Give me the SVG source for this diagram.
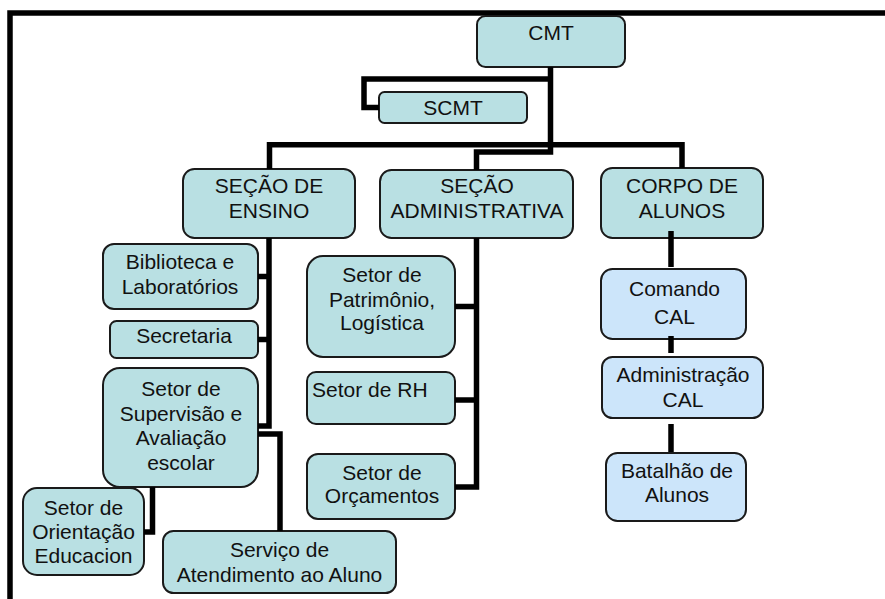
<svg xmlns="http://www.w3.org/2000/svg" width="885" height="599" viewBox="0 0 885 599">
<style>
.t{fill:#b9e0e3;stroke:#1a1a1a;stroke-width:2}
.b{fill:#cce5fa;stroke:#1a1a1a;stroke-width:2}
text{font-family:"Liberation Sans",Arial,sans-serif;font-size:21px;fill:#111;text-anchor:middle}
.c{fill:none;stroke:#000;stroke-width:5.5;stroke-linejoin:miter}
</style>
<rect x="0" y="0" width="885" height="599" fill="#fff"/>
<rect x="10" y="13" width="900" height="620" fill="none" stroke="#000" stroke-width="5.5"/>
<g id="cmt"><rect class="t" x="477" y="16" width="148" height="51" rx="8.5"/><text x="551" y="40">CMT</text></g>
<g id="scmt"><rect class="t" x="379" y="92" width="148" height="31" rx="5.5"/><text x="453" y="115">SCMT</text></g>
<g id="ensino"><rect class="t" x="183" y="169" width="172" height="69" rx="11.5"/><text x="269" y="193">SEÇÃO DE</text><text x="269" y="217.5">ENSINO</text></g>
<g id="admin"><rect class="t" x="380" y="170" width="193" height="68" rx="11.5"/><text x="477" y="193">SEÇÃO</text><text x="477" y="217.5">ADMINISTRATIVA</text></g>
<g id="corpo"><rect class="t" x="601" y="168" width="162" height="70" rx="11.5"/><text x="682" y="193">CORPO DE</text><text x="682" y="217.5">ALUNOS</text></g>
<g id="biblioteca"><rect class="t" x="103" y="244" width="155" height="65" rx="11"/><text x="180" y="269">Biblioteca e</text><text x="180" y="294">Laboratórios</text></g>
<g id="secretaria"><rect class="t" x="110" y="321" width="148" height="37" rx="6.5"/><text x="184" y="343">Secretaria</text></g>
<g id="supervisao"><rect class="t" x="103" y="368" width="155" height="119" rx="17"/><text x="181" y="396">Setor de</text><text x="181" y="421">Supervisão e</text><text x="181" y="445">Avaliação</text><text x="181" y="469.5">escolar</text></g>
<g id="orientacao"><rect class="t" x="23" y="488" width="121" height="87" rx="14"/><text x="83.5" y="515">Setor de</text><text x="83.5" y="539">Orientação</text><text x="83.5" y="563">Educacion</text></g>
<g id="servico"><rect class="t" x="163" y="531" width="233" height="62" rx="10.5"/><text x="279.5" y="557">Serviço de</text><text x="279.5" y="582">Atendimento ao Aluno</text></g>
<g id="patrimonio"><rect class="t" x="307" y="256" width="148" height="101" rx="16"/><text x="382" y="282">Setor de</text><text x="382" y="306.5">Patrimônio,</text><text x="382" y="330">Logística</text></g>
<g id="rh"><rect class="t" x="307" y="372" width="148" height="52" rx="9"/><text x="312" y="397" style="text-anchor:start">Setor de RH</text></g>
<g id="orcamentos"><rect class="t" x="307" y="454" width="148" height="65" rx="11"/><text x="382" y="480">Setor de</text><text x="382" y="503">Orçamentos</text></g>
<g id="comando"><rect class="b" x="601" y="269" width="145" height="70" rx="11.5"/><text x="674.5" y="296">Comando</text><text x="674.5" y="323.5">CAL</text></g>
<g id="administracao"><rect class="b" x="602" y="357" width="161" height="61" rx="10.5"/><text x="683" y="382">Administração</text><text x="683" y="407">CAL</text></g>
<g id="batalhao"><rect class="b" x="606" y="453" width="140" height="68" rx="11.5"/><text x="677" y="478">Batalhão de</text><text x="677" y="502">Alunos</text></g>
<g id="connectors">
<path class="c" d="M550.5,67 V152 H476.5 V170"/>
<path class="c" d="M550.5,79 H364 V107.5 H379"/>
<path class="c" d="M269.5,169 V144.7 H682 V168"/>
<path class="c" d="M269,238 V426 H258"/>
<path class="c" d="M258,276.5 H269"/>
<path class="c" d="M258,339.5 H269"/>
<path class="c" d="M258,434 H280 V531"/>
<path class="c" d="M152.5,487 V532 H144"/>
<path class="c" d="M476.5,238 V487 H455"/>
<path class="c" d="M455,306.5 H476.5"/>
<path class="c" d="M455,400 H476.5"/>
<path class="c" d="M671,231 V267"/>
<path class="c" d="M671,336 V353"/>
<path class="c" d="M671,424 V452"/>
</g>
</svg>
